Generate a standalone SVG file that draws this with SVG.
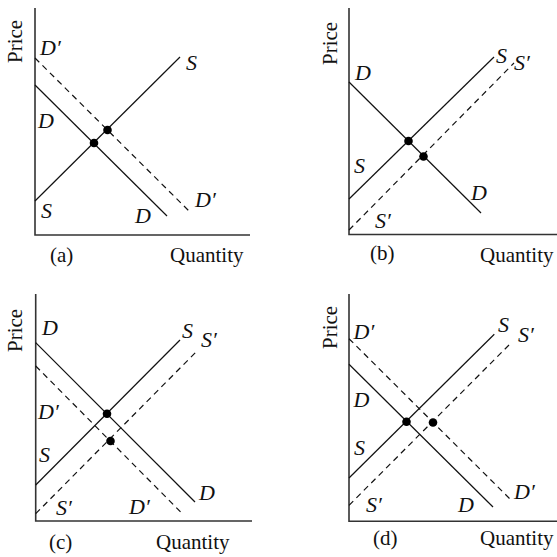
<svg xmlns="http://www.w3.org/2000/svg" width="557" height="557" viewBox="0 0 557 557">
<style>
.ax{fill:none;stroke:#333;stroke-width:1.6}
.ln{fill:none;stroke:#111;stroke-width:1.2}
.ds{fill:none;stroke:#111;stroke-width:1.2;stroke-dasharray:6 4.5}
.dot{fill:#000}
.lb{font-family:"Liberation Serif","Times New Roman",serif;font-size:22px;font-style:italic;fill:#111}
.tx{font-family:"Liberation Serif","Times New Roman",serif;font-size:21px;fill:#111}
</style>
<rect width="557" height="557" fill="#fff"/>
<g id="panel-a">
<g id="axes-a"><path class="ax" d="M35,8 V235 H250"/></g>
<g id="connectors-a">
<line class="ds" x1="35" y1="58" x2="190" y2="212"/>
<line class="ln" x1="35" y1="85" x2="167" y2="216"/>
<line class="ln" x1="35" y1="201" x2="180" y2="57"/>
</g>
<g id="points-a"><circle class="dot" cx="94" cy="143" r="4.3"/><circle class="dot" cx="107.5" cy="130" r="4.3"/></g>
<g id="labels-a">
<text class="lb" x="40" y="55">D′</text>
<text class="lb" x="186" y="70">S</text>
<text class="lb" x="38" y="128">D</text>
<text class="lb" x="195" y="207">D′</text>
<text class="lb" x="41" y="218">S</text>
<text class="lb" x="135" y="223">D</text>
<text class="tx" x="50" y="262">(a)</text>
<text class="tx" x="170" y="262">Quantity</text>
<text class="tx" transform="translate(22,63) rotate(-90)">Price</text>
</g>
</g>
<g id="panel-b">
<g id="axes-b"><path class="ax" d="M349,8 V234.5 H557"/></g>
<g id="connectors-b">
<line class="ln" x1="349" y1="82" x2="481" y2="213"/>
<line class="ln" x1="349" y1="199" x2="494" y2="57"/>
<line class="ds" x1="349" y1="230" x2="514" y2="63"/>
</g>
<g id="points-b"><circle class="dot" cx="408.5" cy="141" r="4.3"/><circle class="dot" cx="423.5" cy="156.5" r="4.3"/></g>
<g id="labels-b">
<text class="lb" x="355" y="80">D</text>
<text class="lb" x="496" y="63">S</text>
<text class="lb" x="514" y="70">S′</text>
<text class="lb" x="354" y="173">S</text>
<text class="lb" x="471" y="200">D</text>
<text class="lb" x="375" y="228">S′</text>
<text class="tx" x="370" y="260">(b)</text>
<text class="tx" x="480" y="262">Quantity</text>
<text class="tx" transform="translate(337,65) rotate(-90)">Price</text>
</g>
</g>
<g id="panel-c">
<g id="axes-c"><path class="ax" d="M35.7,294 V521 H252"/></g>
<g id="connectors-c">
<line class="ln" x1="35.7" y1="342.7" x2="195" y2="502"/>
<line class="ds" x1="35.7" y1="366" x2="181.7" y2="513"/>
<line class="ln" x1="35.7" y1="485" x2="180" y2="340"/>
<line class="ds" x1="35.7" y1="513.7" x2="197" y2="351"/>
</g>
<g id="points-c"><circle class="dot" cx="107" cy="413.7" r="4.3"/><circle class="dot" cx="110.5" cy="441" r="4.3"/></g>
<g id="labels-c">
<text class="lb" x="42" y="335">D</text>
<text class="lb" x="182" y="337.5">S</text>
<text class="lb" x="201" y="347">S′</text>
<text class="lb" x="38" y="418.5">D′</text>
<text class="lb" x="39" y="462">S</text>
<text class="lb" x="199" y="499.5">D</text>
<text class="lb" x="56" y="515">S′</text>
<text class="lb" x="129" y="514">D′</text>
<text class="tx" x="49" y="549">(c)</text>
<text class="tx" x="156" y="549">Quantity</text>
<text class="tx" transform="translate(22,352) rotate(-90)">Price</text>
</g>
</g>
<g id="panel-d">
<g id="axes-d"><path class="ax" d="M349,294 V521.3 H557"/></g>
<g id="connectors-d">
<line class="ds" x1="349" y1="338.7" x2="512" y2="501"/>
<line class="ln" x1="349" y1="364.3" x2="493" y2="507"/>
<line class="ln" x1="349" y1="478" x2="494.3" y2="334.3"/>
<line class="ds" x1="349" y1="505.3" x2="512" y2="342"/>
</g>
<g id="points-d"><circle class="dot" cx="406.5" cy="421.8" r="4.3"/><circle class="dot" cx="433" cy="422.5" r="4.3"/></g>
<g id="labels-d">
<text class="lb" x="353.5" y="338.5">D′</text>
<text class="lb" x="498" y="332">S</text>
<text class="lb" x="518" y="342">S′</text>
<text class="lb" x="353.5" y="407">D</text>
<text class="lb" x="354" y="455">S</text>
<text class="lb" x="514" y="498.5">D′</text>
<text class="lb" x="366" y="512">S′</text>
<text class="lb" x="458" y="512">D</text>
<text class="tx" x="373" y="545">(d)</text>
<text class="tx" x="480" y="545">Quantity</text>
<text class="tx" transform="translate(337,349) rotate(-90)">Price</text>
</g>
</g>
</svg>
